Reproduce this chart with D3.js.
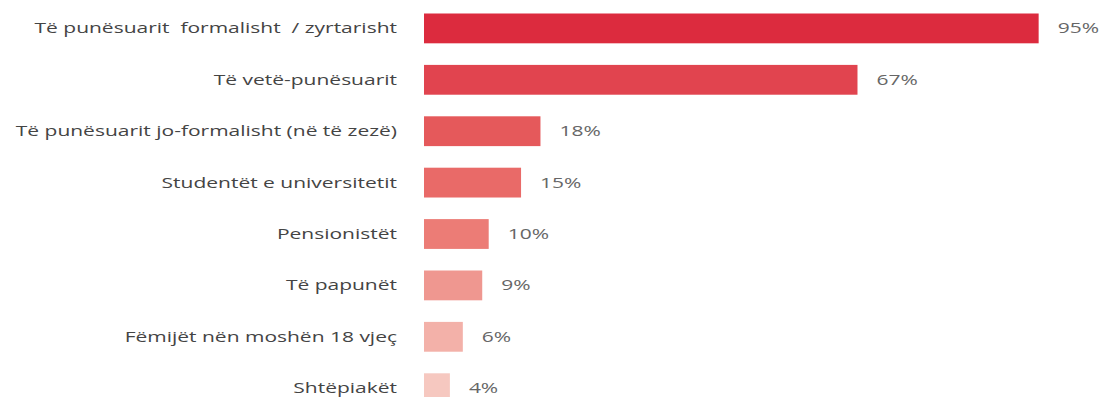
<!DOCTYPE html>
<html>
<head>
<meta charset="utf-8">
<script src="https://cdn.jsdelivr.net/npm/d3@7/dist/d3.min.js"></script>
<style>
  html, body { margin: 0; padding: 0; background: #fff; }
  svg { display: block; font-family: "Open Sans", "Noto Sans", sans-serif; }
  text { white-space: pre; }
</style>
</head>
<body>
<svg id="chart" width="1099" height="397"></svg>
<script>
// Share of each group (percent)
const categories = [
  "Të punësuarit  formalisht  / zyrtarisht",
  "Të vetë-punësuarit",
  "Të punësuarit jo-formalisht (në të zezë)",
  "Studentët e universitetit",
  "Pensionistët",
  "Të papunët",
  "Fëmijët nën moshën 18 vjeç",
  "Shtëpiakët"
];
const values = [95, 67, 18, 15, 10, 9, 6, 4];
const barColors = ["#dc2b3e", "#e1444f", "#e5595b", "#e96a68", "#ec7c76", "#ef9790", "#f3b1a9", "#f6c8c0"];

const svg = d3.select("#chart");
const plotLeft = 424, plotTop = 13.5;
const pxPerUnit = 6.47;
const rowStep = 51.4, innerPad = 0.42;
const textStretch = 1.5;   // wide lettering

const x = d3.scaleLinear().domain([0, 100]).range([plotLeft, plotLeft + 100 * pxPerUnit]);
const y = d3.scaleBand()
  .domain(categories)
  .range([plotTop, plotTop + rowStep * (categories.length - innerPad)])
  .paddingInner(innerPad)
  .paddingOuter(0);

svg.append("g").selectAll("rect")
  .data(values)
  .join("rect")
  .attr("x", x(0))
  .attr("y", (d, i) => y(categories[i]))
  .attr("width", d => x(d) - x(0))
  .attr("height", y.bandwidth())
  .attr("fill", (d, i) => barColors[i]);

svg.append("g").selectAll("text")
  .data(categories)
  .join("text")
  .attr("transform", d => `translate(397,${y(d) + y.bandwidth() / 2}) scale(${textStretch},1)`)
  .attr("dy", "0.35em")
  .attr("text-anchor", "end")
  .attr("font-size", 14)
  .attr("fill", "#444")
  .text(d => d);

svg.append("g").selectAll("text")
  .data(values)
  .join("text")
  .attr("transform", (d, i) => `translate(${x(d) + 19},${y(categories[i]) + y.bandwidth() / 2}) scale(${textStretch},1)`)
  .attr("dy", "0.35em")
  .attr("font-size", 14)
  .attr("fill", "#666")
  .text(d => d + "%");
</script>
</body>
</html>
